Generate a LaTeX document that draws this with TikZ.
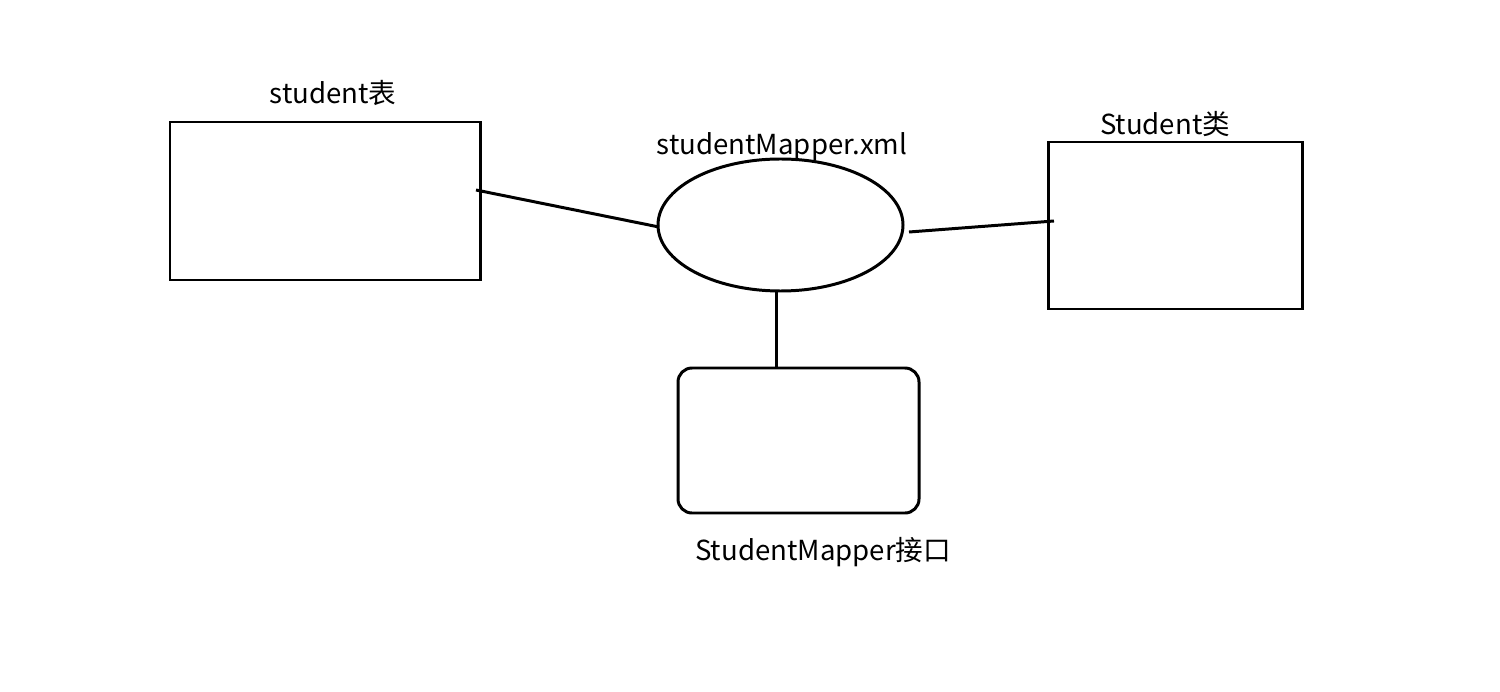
\documentclass[tikz,border=0pt]{standalone}
\usepackage{fontspec}
\setmainfont{Noto Sans CJK SC}
\usetikzlibrary{shapes.geometric}
\begin{document}
\begin{tikzpicture}[x=0.02cm,y=-0.02cm,
  shapeline/.style={draw=black,line width=1.7pt},
  lbl/.style={inner sep=0pt,font=\fontsize{15.7}{18}\selectfont},
  conn/.style={draw=black,line width=1.7pt}]
\useasboundingbox (0,0) rectangle (1500,692);
\fill[white] (0,0) rectangle (1500,692);
\node[shapeline,minimum width=310*0.02cm,minimum height=158*0.02cm,inner sep=0pt] (tbl) at (325,201) {};
\node[shapeline,ellipse,minimum width=245*0.02cm,minimum height=132*0.02cm,inner sep=0pt] (xml) at (780.5,225) {};
\node[shapeline,minimum width=254*0.02cm,minimum height=167*0.02cm,inner sep=0pt] (cls) at (1175,225.5) {};
\node[shapeline,rounded corners=14*0.02cm,minimum width=241*0.02cm,minimum height=145*0.02cm,inner sep=0pt] (ifc) at (798.5,440.5) {};
\node[lbl] (tbllbl) at (333,93) {student表};
\node[lbl] (xmllbl) at (782,147) {studentMapper.xml};
\node[lbl] (clslbl) at (1165,124) {Student类};
\node[lbl] (ifclbl) at (823,552) {StudentMapper接口};
\coordinate (a1) at (476,190);
\coordinate (a2) at (659,227);
\coordinate (b1) at (909,232);
\coordinate (b2) at (1054,221);
\coordinate (c1) at (776,291);
\coordinate (c2) at (776,368);
\draw[conn] (a1) -- (a2);
\draw[conn] (b1) -- (b2);
\draw[conn] (c1) -- (c2);
\end{tikzpicture}
\end{document}
